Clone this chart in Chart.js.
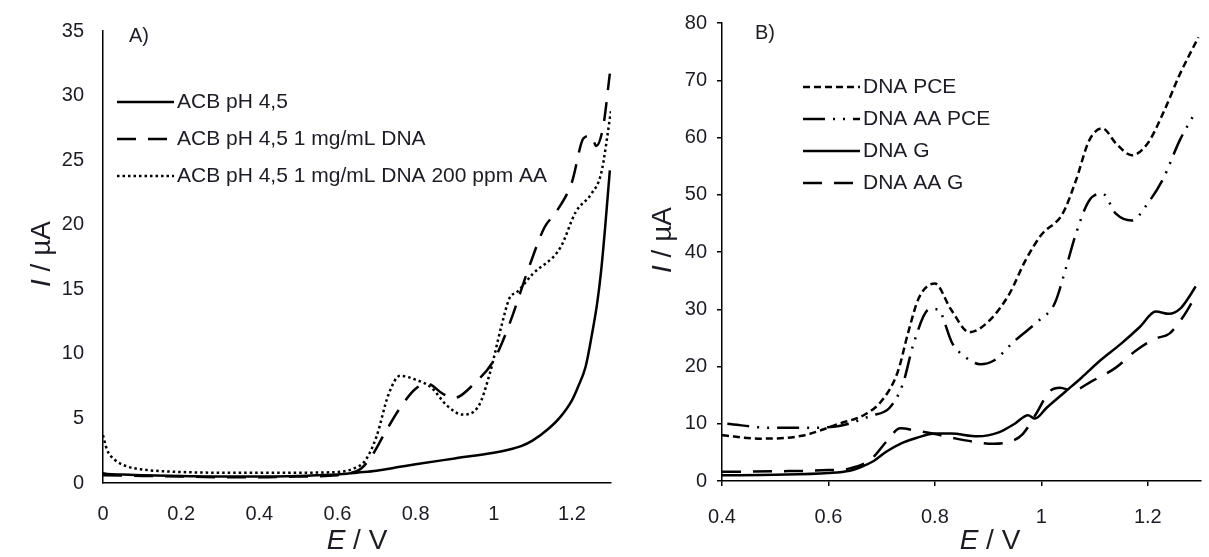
<!DOCTYPE html>
<html>
<head>
<meta charset="utf-8">
<script src="https://cdn.jsdelivr.net/npm/chart.js@4.4.0/dist/chart.umd.min.js"></script>
<style>
    html, body { margin: 0; padding: 0; background: #fff; }
    #wrap { position: relative; width: 1209px; height: 557px; }
    canvas { position: absolute; left: 0; top: 0; }
</style>
</head>
<body>
<div id="wrap">
    <canvas id="chartA" width="1209" height="557"></canvas>
    <canvas id="chartB" width="1209" height="557"></canvas>
</div>
<script>
// ---- Panel A data (E / V vs I / uA) ----
var xTicksA = [0, 0.2, 0.4, 0.6, 0.8, 1, 1.2];
var yTicksA = [0, 5, 10, 15, 20, 25, 30, 35];

var acbE = [0, 0.01, 0.05, 0.1, 0.2, 0.3, 0.4, 0.5, 0.6, 0.65, 0.7, 0.76, 0.8, 0.9, 1.0, 1.04, 1.07, 1.1, 1.14, 1.17, 1.2, 1.215, 1.235, 1.25, 1.265, 1.275, 1.285, 1.297];
var acbI = [0.75, 0.7, 0.65, 0.6, 0.55, 0.5, 0.5, 0.55, 0.65, 0.8, 0.95, 1.25, 1.45, 1.9, 2.35, 2.6, 2.85, 3.3, 4.2, 5.1, 6.4, 7.4, 9.0, 11.3, 14.0, 16.5, 19.8, 24.2];

var dnaE = [0, 0.1, 0.2, 0.3, 0.4, 0.5, 0.6, 0.63, 0.66, 0.69, 0.72, 0.76, 0.8, 0.83, 0.87, 0.9, 0.95, 1.0, 1.04, 1.09, 1.13, 1.16, 1.2, 1.23, 1.25, 1.262, 1.28, 1.297];
var dnaI = [0.6, 0.55, 0.5, 0.45, 0.45, 0.5, 0.6, 0.75, 1.1, 2.2, 3.8, 5.8, 7.3, 7.7, 6.9, 6.6, 7.7, 9.5, 12.3, 16.7, 19.8, 21.0, 23.3, 26.7, 26.9, 26.1, 27.6, 31.7];

var aaE = [0, 0.01, 0.03, 0.06, 0.1, 0.2, 0.3, 0.4, 0.5, 0.6, 0.64, 0.67, 0.7, 0.73, 0.76, 0.8, 0.84, 0.88, 0.92, 0.96, 0.99, 1.02, 1.04, 1.06, 1.1, 1.17, 1.21, 1.25, 1.275, 1.3];
var aaI = [3.7, 2.6, 1.8, 1.3, 1.05, 0.85, 0.8, 0.8, 0.8, 0.85, 1.1, 1.7, 3.6, 6.8, 8.3, 8.0, 7.4, 6.0, 5.3, 5.9, 8.5, 12.2, 14.3, 14.8, 16.2, 18.2, 21.0, 22.4, 24.0, 28.8];

// ---- Panel B data ----
var xTicksB = [0.4, 0.6, 0.8, 1, 1.2];
var yTicksB = [0, 10, 20, 30, 40, 50, 60, 70, 80];

var pceE = [0.4, 0.47, 0.55, 0.62, 0.67, 0.7, 0.73, 0.75, 0.77, 0.8, 0.83, 0.865, 0.9, 0.94, 0.97, 1.0, 1.04, 1.065, 1.09, 1.115, 1.14, 1.17, 1.2, 1.23, 1.26, 1.295];
var pceI = [8.0, 7.4, 7.9, 10.0, 11.7, 14.0, 19.0, 26.0, 32.0, 34.5, 30.0, 26.0, 27.8, 32.7, 38.5, 43.0, 46.7, 52.5, 59.5, 61.6, 59.0, 56.9, 59.0, 64.5, 71.0, 77.5];

var aaPceE = [0.41, 0.49, 0.56, 0.62, 0.68, 0.715, 0.74, 0.76, 0.79, 0.805, 0.833, 0.858, 0.885, 0.91, 0.95, 0.995, 1.025, 1.045, 1.065, 1.09, 1.115, 1.14, 1.17, 1.2, 1.23, 1.26, 1.29];
var aaPceI = [10.0, 9.3, 9.3, 9.6, 11.4, 12.8, 17.0, 24.0, 30.0, 30.0, 24.0, 21.6, 20.4, 21.0, 24.5, 28.0, 31.0, 36.8, 43.2, 49.0, 50.2, 46.7, 45.5, 48.5, 53.0, 59.5, 64.5];

var gE = [0.4, 0.5, 0.6, 0.64, 0.66, 0.685, 0.71, 0.735, 0.765, 0.8, 0.83, 0.88, 0.92, 0.95, 0.975, 0.988, 1.01, 1.045, 1.075, 1.11, 1.15, 1.185, 1.215, 1.24, 1.262, 1.28, 1.29];
var gI = [1.0, 1.1, 1.4, 1.8, 2.4, 3.5, 5.2, 6.5, 7.5, 8.3, 8.3, 7.8, 8.5, 10.0, 11.5, 10.9, 12.8, 15.6, 18.0, 21.0, 24.0, 26.9, 29.6, 29.2, 30.2, 32.5, 34.0];

var aaGE = [0.4, 0.5, 0.6, 0.64, 0.68, 0.71, 0.735, 0.765, 0.8, 0.84, 0.87, 0.91, 0.945, 0.965, 0.99, 1.015, 1.035, 1.058, 1.096, 1.14, 1.178, 1.215, 1.24, 1.265, 1.285];
var aaGI = [1.6, 1.7, 1.9, 2.2, 3.8, 7.0, 9.2, 8.8, 8.2, 7.4, 6.9, 6.5, 7.0, 8.2, 11.7, 15.6, 16.3, 15.8, 17.5, 19.8, 22.8, 24.9, 25.7, 28.5, 31.5];

var FONT = '"Liberation Sans", Arial, sans-serif';
var TEXT = '#1c1c24';

function pairs(xs, ys) {
    return xs.map(function (x, i) { return { x: x, y: ys[i] }; });
}

function line(label, xs, ys, dash, width) {
    return {
        label: label,
        data: pairs(xs, ys),
        borderColor: '#000',
        borderWidth: width,
        borderDash: dash,
        pointRadius: 0,
        fill: false,
        cubicInterpolationMode: 'monotone'
    };
}

// Draws an axis title with an italic symbol followed by upright unit text
function drawTitle(ctx, sym, rest, x, y, angle) {
    var italic = 'italic 28px ' + FONT;
    var normal = '28px ' + FONT;
    ctx.save();
    ctx.translate(x, y);
    ctx.rotate(angle);
    ctx.font = italic;
    var w1 = ctx.measureText(sym).width;
    ctx.font = normal;
    var w2 = ctx.measureText(rest).width;
    var start = -(w1 + w2) / 2;
    ctx.textAlign = 'left';
    ctx.textBaseline = 'middle';
    ctx.font = italic;
    ctx.fillText(sym, start, 0);
    ctx.font = normal;
    ctx.fillText(rest, start + w1, 0);
    ctx.restore();
}

// Panel tag, legend and axis titles
function overlay(p) {
    return {
        id: 'overlay',
        afterDraw: function (chart) {
            var ctx = chart.ctx;
            ctx.save();
            ctx.fillStyle = TEXT;
            ctx.textBaseline = 'middle';
            ctx.textAlign = 'left';
            ctx.font = '20px ' + FONT;
            ctx.fillText(p.tag, p.tagX, p.tagY);

            chart.data.datasets.forEach(function (ds, i) {
                var y = p.legY + i * p.legStep;
                ctx.strokeStyle = ds.borderColor;
                ctx.lineWidth = ds.borderWidth;
                ctx.setLineDash(ds.borderDash || []);
                ctx.beginPath();
                ctx.moveTo(p.legX, y);
                ctx.lineTo(p.legX + p.legLen, y);
                ctx.stroke();
                ctx.setLineDash([]);
                ctx.font = p.legFont + 'px ' + FONT;
                ctx.fillText(ds.label, p.legX + p.legLen + 3, y);
            });

            drawTitle(ctx, 'E', ' / V', p.xTitleX, p.xTitleY, 0);
            drawTitle(ctx, 'I', ' / \u00b5A', p.yTitleX, p.yTitleY, -Math.PI / 2);
            ctx.restore();
        }
    };
}

function makePanel(id, p) {
    var tickFont = { family: FONT, size: 20 };
    new Chart(document.getElementById(id).getContext('2d'), {
        type: 'line',
        data: { datasets: p.datasets },
        options: {
            responsive: false,
            animation: false,
            events: [],
            layout: { padding: p.padding },
            plugins: { legend: { display: false }, tooltip: { enabled: false } },
            scales: {
                x: {
                    type: 'linear',
                    min: p.xMin,
                    max: p.xMax,
                    afterBuildTicks: function (scale) {
                        scale.ticks = p.xTicks.map(function (v) { return { value: v }; });
                    },
                    afterFit: function (scale) { scale.height = p.xAxisH; },
                    ticks: {
                        color: TEXT,
                        font: tickFont,
                        padding: p.xPad,
                        maxRotation: 0,
                        callback: function (v) { return String(v); }
                    },
                    grid: {
                        display: p.tickMarks,
                        drawOnChartArea: false,
                        drawTicks: p.tickMarks,
                        tickLength: 5,
                        color: '#000',
                        lineWidth: 1.5
                    },
                    border: { display: true, color: '#000', width: 1.5 }
                },
                y: {
                    min: 0,
                    max: p.yMax,
                    afterBuildTicks: function (scale) {
                        scale.ticks = p.yTicks.map(function (v) { return { value: v }; });
                    },
                    afterFit: function (scale) { scale.width = p.yAxisW; },
                    ticks: {
                        color: TEXT,
                        font: tickFont,
                        padding: p.yPad,
                        callback: function (v) { return String(v); }
                    },
                    grid: {
                        display: p.tickMarks,
                        drawOnChartArea: false,
                        drawTicks: p.tickMarks,
                        tickLength: 5,
                        color: '#000',
                        lineWidth: 1.5
                    },
                    border: { display: true, color: '#000', width: 1.5 }
                }
            }
        },
        plugins: [overlay(p)]
    });
}

makePanel('chartA', {
    datasets: [
        line('ACB pH 4,5', acbE, acbI, [], 2.5),
        line('ACB pH 4,5 1 mg/mL DNA', dnaE, dnaI, [19, 12], 2.5),
        line('ACB pH 4,5 1 mg/mL DNA 200 ppm AA', aaE, aaI, [2.5, 3], 2.5)
    ],
    xMin: 0, xMax: 1.3, yMax: 35,
    xTicks: xTicksA, yTicks: yTicksA,
    padding: { left: 0, top: 29, right: 598, bottom: 0 },
    yAxisW: 103, xAxisH: 74,
    xPad: 19, yPad: 19,
    tickMarks: false,
    tag: 'A)', tagX: 129, tagY: 36,
    legX: 117, legY: 102, legStep: 37, legLen: 57, legFont: 21,
    xTitleX: 357, xTitleY: 541,
    yTitleX: 42, yTitleY: 254
});

makePanel('chartB', {
    datasets: [
        line('DNA PCE', pceE, pceI, [7, 4], 2.5),
        line('DNA AA PCE', aaPceE, aaPceI, [22, 8, 2, 8, 2, 8], 2.5),
        line('DNA G', gE, gI, [], 2.5),
        line('DNA AA G', aaGE, aaGI, [19, 12], 2.5)
    ],
    xMin: 0.4, xMax: 1.3, yMax: 80,
    xTicks: xTicksB, yTicks: yTicksB,
    padding: { left: 620, top: 23, right: 8, bottom: 0 },
    yAxisW: 102, xAxisH: 76,
    xPad: 19, yPad: 10,
    tickMarks: true,
    tag: 'B)', tagX: 755, tagY: 33,
    legX: 803, legY: 87, legStep: 32, legLen: 57, legFont: 21,
    xTitleX: 990, xTitleY: 541,
    yTitleX: 663, yTitleY: 240
});
</script>
</body>
</html>
